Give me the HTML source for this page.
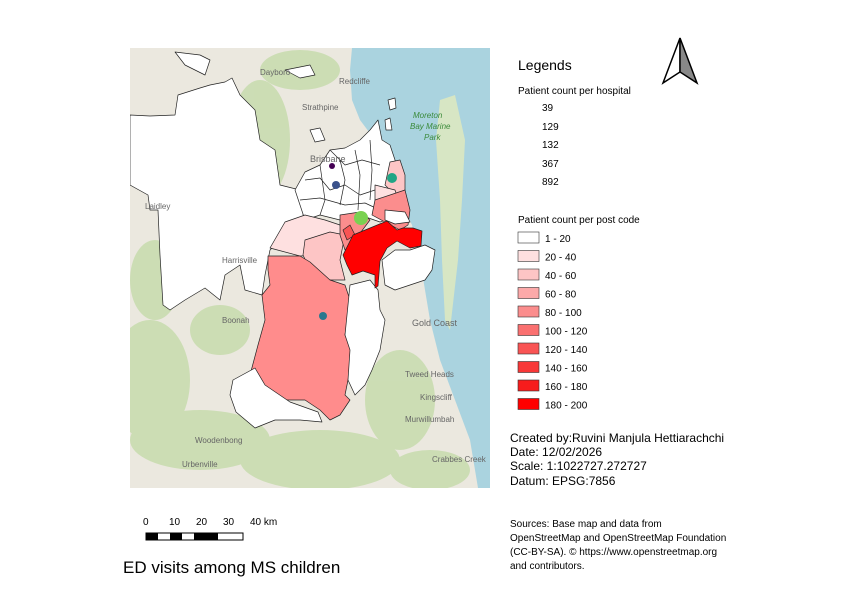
<!DOCTYPE html>
<html><head><meta charset="utf-8"><style>
body{margin:0;background:#fff;width:842px;height:596px;overflow:hidden;font-family:"Liberation Sans",sans-serif}
</style></head><body>
<svg width="842" height="596" viewBox="0 0 842 596" xmlns="http://www.w3.org/2000/svg" font-family="Liberation Sans, sans-serif">
<defs><clipPath id="m"><rect x="130" y="48" width="360" height="440"/></clipPath></defs>
<g clip-path="url(#m)">
<rect x="130" y="48" width="360" height="440" fill="#ebe8df"/>
<g fill="#c9dcb0" opacity="0.9">
<ellipse cx="260" cy="140" rx="30" ry="60"/><ellipse cx="150" cy="380" rx="40" ry="60"/>
<ellipse cx="200" cy="440" rx="70" ry="30"/><ellipse cx="320" cy="460" rx="80" ry="30"/>
<ellipse cx="400" cy="400" rx="35" ry="50"/><ellipse cx="155" cy="280" rx="25" ry="40"/>
<ellipse cx="300" cy="70" rx="40" ry="20"/><ellipse cx="430" cy="470" rx="40" ry="20"/>
<ellipse cx="220" cy="330" rx="30" ry="25"/>
</g>
<path d="M352 48 L490 48 L490 488 L478 488 L470 440 L455 400 L440 360 L430 320 L425 290 L420 260 L412 225 L400 200 L395 180 L385 160 L375 140 L360 120 L352 100 L350 70 Z" fill="#aad3df"/>
<path d="M440 100 L455 95 L465 140 L462 200 L458 260 L450 330 L445 320 L442 260 L440 200 L436 140 Z" fill="#d7e6c4"/>
<g stroke="#222" stroke-width="0.7" stroke-linejoin="round">
<path d="M130 115 L150 116 L175 115 L178 95 L200 88 L210 85 L225 82 L232 78 L240 95 L255 110 L260 140 L275 150 L280 185 L300 190 L305 230 L290 235 L280 240 L270 250 L265 275 L262 295 L245 290 L240 265 L225 275 L220 300 L205 288 L185 300 L170 310 L163 305 L160 255 L158 210 L150 210 L148 195 L130 185 Z" fill="#fff"/>
<path d="M175 52 L200 55 L210 60 L205 75 L195 70 L185 65 Z" fill="#fff"/>
<path d="M285 70 L310 65 L315 75 L300 78 Z" fill="#fff"/>
<path d="M295 190 L305 172 L320 165 L330 150 L345 148 L360 140 L370 130 L378 120 L382 140 L390 145 L395 160 L400 180 L405 195 L402 215 L380 222 L360 215 L340 220 L320 215 L305 220 Z" fill="#fff"/>
<path d="M305 180 L320 178 L330 190 L345 185 L360 195 L375 190 M320 165 L325 200 L320 215 M340 160 L345 180 L340 205 M355 150 L360 175 L358 210 M370 140 L372 170 L370 200 M300 200 L320 198 L345 205 L365 203 L380 210 M330 150 L345 165 L362 160 L380 165" fill="none"/>
<path d="M390 162 L400 160 L405 175 L405 190 L395 195 L385 185 Z" fill="#fdc5c5"/>
<path d="M375 185 L395 190 L400 205 L385 205 L375 200 Z" fill="#fee0e0"/>
<path d="M375 200 L405 190 L410 210 L408 225 L400 230 L385 222 L372 215 Z" fill="#fb8d8d"/>
<path d="M270 248 L285 222 L305 215 L325 220 L340 225 L345 240 L335 250 L320 255 L300 256 Z" fill="#fee0e0"/>
<path d="M305 240 L330 232 L345 235 L340 260 L345 280 L325 280 L310 270 L303 255 Z" fill="#fdc5c5"/>
<path d="M340 215 L360 212 L370 220 L355 240 L345 250 L340 235 Z" fill="#fb8d8d"/>
<path d="M343 230 L350 225 L355 235 L347 240 Z" fill="#f95454"/>
<path d="M268 256 L300 256 L310 262 L330 280 L345 285 L350 300 L345 335 L352 350 L350 370 L345 395 L350 400 L340 415 L330 420 L320 410 L305 400 L285 400 L260 395 L250 375 L258 345 L265 320 L262 295 L270 285 L268 270 Z" fill="#ff8c8c"/>
<path d="M233 380 L255 368 L265 385 L290 402 L318 412 L322 422 L300 420 L275 420 L255 428 L236 412 L230 395 Z" fill="#fff"/>
<path d="M350 285 L370 280 L378 290 L380 310 L385 320 L380 350 L372 370 L365 385 L355 395 L348 380 L350 350 L345 335 Z" fill="#fff"/>
<path d="M343 255 L353 235 L370 228 L387 221 L397 230 L403 228 L413 228 L422 231 L421 246 L410 248 L397 241 L387 248 L380 261 L378 286 L375 288 L375 275 L363 271 L352 275 L347 265 Z" fill="#ff0000"/>
<path d="M382 260 L395 250 L410 250 L425 245 L435 250 L432 270 L425 280 L410 285 L395 290 L385 285 Z" fill="#fff"/>
<path d="M385 210 L405 212 L410 222 L395 224 L385 220 Z" fill="#fff"/>
<path d="M388 100 L395 98 L396 108 L390 110 Z M385 120 L390 118 L392 130 L386 130 Z" fill="#fff"/>
<path d="M310 130 L320 128 L325 140 L315 142 Z" fill="#fff"/>
</g>
<g font-size="8" fill="#666">
<text x="260" y="75">Dayboro</text><text x="339" y="84">Redcliffe</text><text x="302" y="110">Strathpine</text>
<text x="310" y="162" font-size="9">Brisbane</text><text x="222" y="263">Harrisville</text><text x="222" y="323">Boonah</text>
<text x="412" y="326" font-size="9">Gold Coast</text><text x="405" y="377">Tweed Heads</text><text x="405" y="422">Murwillumbah</text>
<text x="195" y="443">Woodenbong</text><text x="182" y="467">Urbenville</text><text x="432" y="462">Crabbes Creek</text>
<text x="145" y="209">Laidley</text><text x="420" y="400">Kingscliff</text>
<text x="413" y="118" fill="#3a8a3a" font-style="italic">Moreton</text><text x="410" y="129" fill="#3a8a3a" font-style="italic">Bay Marine</text><text x="424" y="140" fill="#3a8a3a" font-style="italic">Park</text>
</g>
<circle cx="332" cy="166" r="3" fill="#440154"/>
<circle cx="336" cy="185" r="4" fill="#3b528b"/>
<circle cx="392" cy="178" r="5" fill="#21a585"/>
<circle cx="361" cy="218" r="7" fill="#7ad151"/>
<circle cx="323" cy="316" r="4" fill="#2a788e"/>
</g>
<path d="M680 38 L663 83 L680 72 Z" fill="#fff" stroke="#000" stroke-width="1.5"/>
<path d="M680 38 L697 83 L680 72 Z" fill="#888" stroke="#000" stroke-width="1.5"/>
<text x="518" y="70" font-size="14">Legends</text>
<text x="518" y="94" font-size="10">Patient count per hospital</text>
<g font-size="10"><text x="542" y="111">39</text><text x="542" y="130">129</text><text x="542" y="148">132</text><text x="542" y="167">367</text><text x="542" y="185">892</text></g>
<text x="518" y="223" font-size="10">Patient count per post code</text>
<g stroke="#333" stroke-width="0.6">
<rect x="518" y="232" width="21" height="11" fill="#fff"/><rect x="518" y="250.5" width="21" height="11" fill="#fee0e0"/>
<rect x="518" y="269" width="21" height="11" fill="#fdc5c5"/><rect x="518" y="287.5" width="21" height="11" fill="#fca9a9"/>
<rect x="518" y="306" width="21" height="11" fill="#fb8d8d"/><rect x="518" y="324.5" width="21" height="11" fill="#fa7070"/>
<rect x="518" y="343" width="21" height="11" fill="#f95454"/><rect x="518" y="361.5" width="21" height="11" fill="#f83838"/>
<rect x="518" y="380" width="21" height="11" fill="#f71c1c"/><rect x="518" y="398.5" width="21" height="11" fill="#ff0000"/>
</g>
<g font-size="10"><text x="545" y="242">1 - 20</text><text x="545" y="260.5">20 - 40</text><text x="545" y="279">40 - 60</text><text x="545" y="297.5">60 - 80</text><text x="545" y="316">80 - 100</text><text x="545" y="334.5">100 - 120</text><text x="545" y="353">120 - 140</text><text x="545" y="371.5">140 - 160</text><text x="545" y="390">160 - 180</text><text x="545" y="408.5">180 - 200</text></g>
<g font-size="12"><text x="510" y="442">Created by:Ruvini Manjula Hettiarachchi</text><text x="510" y="456">Date: 12/02/2026</text><text x="510" y="470">Scale: 1:1022727.272727</text><text x="510" y="485">Datum: EPSG:7856</text></g>
<g font-size="10"><text x="510" y="527">Sources: Base map and data from</text><text x="510" y="541">OpenStreetMap and OpenStreetMap Foundation</text><text x="510" y="555">(CC-BY-SA). © https://www.openstreetmap.org</text><text x="510" y="569">and contributors.</text></g>
<g font-size="10"><text x="143" y="525">0</text><text x="169" y="525">10</text><text x="196" y="525">20</text><text x="223" y="525">30</text><text x="250" y="525">40 km</text></g>
<rect x="146" y="533" width="97" height="7" fill="#fff" stroke="#000" stroke-width="1"/>
<rect x="146" y="533" width="12" height="7" fill="#000"/><rect x="170" y="533" width="12" height="7" fill="#000"/>
<rect x="194" y="533" width="24" height="7" fill="#000"/>
<text x="123" y="573" font-size="17">ED visits among MS children</text>
</svg>
</body></html>
